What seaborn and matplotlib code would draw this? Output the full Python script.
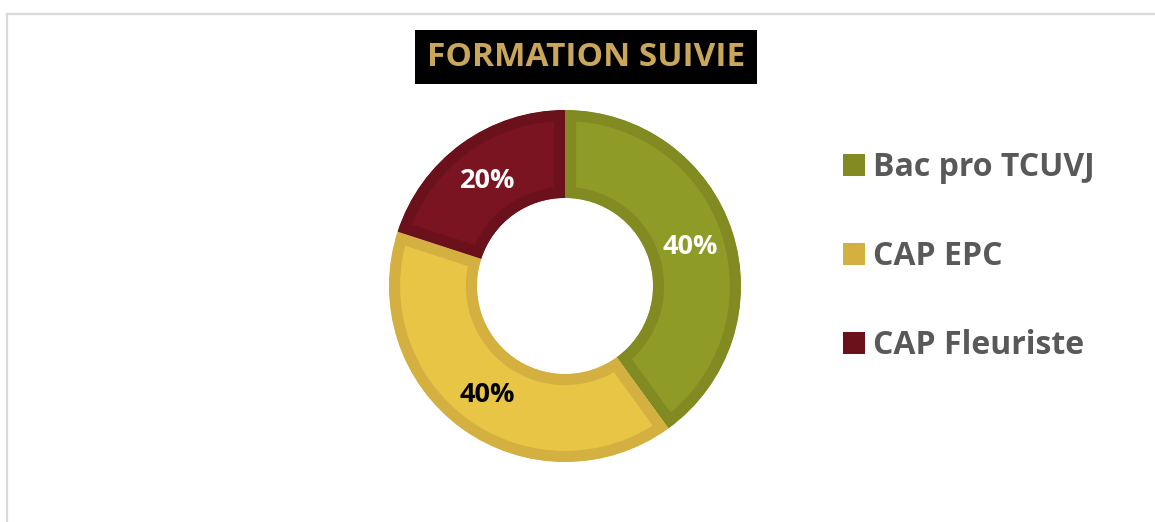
import matplotlib
matplotlib.use("Agg")
import matplotlib.pyplot as plt
from matplotlib.patches import Rectangle, Patch
import numpy as np
import seaborn as sns

categories = ["Bac pro TCUVJ", "CAP EPC", "CAP Fleuriste"]
values = [40, 40, 20]
label_texts = ["40%", "40%", "20%"]
title = "FORMATION SUIVIE"

face_colors = ["#8F9B27", "#E9C546", "#7A1420"]
edge_colors = ["#818B22", "#D4B040", "#6B111C"]
label_colors = ["white", "black", "white"]

sns.set_theme(style="white")
plt.rcParams['font.family'] = ['Open Sans', 'DejaVu Sans']

W, H = 1155, 522
fig = plt.figure(figsize=(W / 100, H / 100), dpi=100)
fig.patch.set_facecolor("white")

# outer border
fig.patches.append(Rectangle((7 / W, -0.1), 1.2, (H - 14) / H + 0.1, transform=fig.transFigure,
                             fill=False, edgecolor="#D9D9D9", linewidth=1.6, zorder=0))

# donut
cx, cy, r = 565, 286, 176
ax = fig.add_axes([(cx - r) / W, (H - cy - r) / H, 2 * r / W, 2 * r / H])
wedges, _ = ax.pie(values, colors=face_colors, startangle=90, counterclock=False,
                   radius=1.0, wedgeprops=dict(width=0.5, linewidth=16))
ax.set_xlim(-1, 1)
ax.set_ylim(-1, 1)
ax.set_aspect("equal")
ax.axis("off")
for w, ec in zip(wedges, edge_colors):
    w.set_edgecolor(ec)
    w.set_clip_on(True)
    w.set_clip_path(w.get_path(), transform=w.get_transform())

for w, txt, col in zip(wedges, label_texts, label_colors):
    ang = np.deg2rad((w.theta1 + w.theta2) / 2)
    rr = 0.75
    ax.text(rr * np.cos(ang), rr * np.sin(ang) - 0.01, txt, ha="center", va="center",
            color=col, fontsize=19.5, fontweight="bold")

# title box
fig.patches.append(Rectangle((415 / W, (H - 84) / H), (757 - 415) / W, 54 / H,
                             transform=fig.transFigure, facecolor="black", edgecolor="none"))
fig.text(586 / W, (H - 58) / H, title, ha="center", va="center", color="#C9A65A",
         fontsize=24, fontweight="bold")

# legend
handles = [Patch(facecolor=c, edgecolor="none") for c in edge_colors]
leg = fig.legend(handles, categories, loc="upper left", bbox_to_anchor=(843 / W, (H - 151) / H),
                 frameon=False, prop=dict(size=23, weight="bold"), labelcolor="#595959",
                 handlelength=0.69, handleheight=0.69, handletextpad=0.25, labelspacing=1.76,
                 borderpad=0, borderaxespad=0)

fig.savefig("out.png", dpi=100)
